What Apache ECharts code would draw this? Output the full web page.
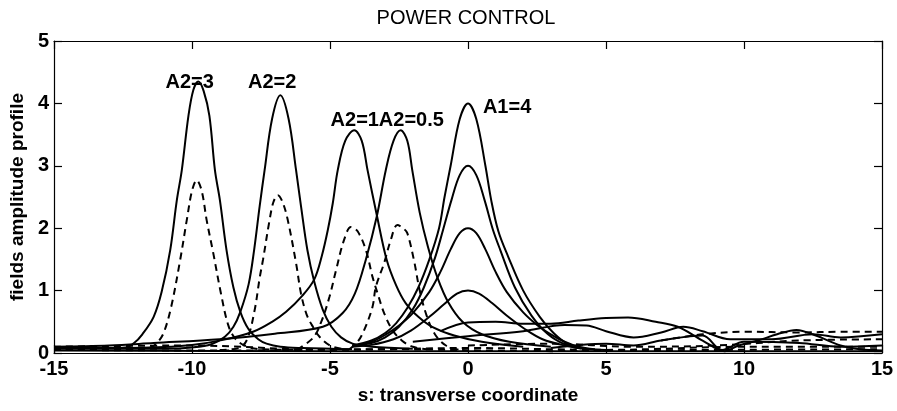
<!DOCTYPE html>
<html>
<head>
<meta charset="utf-8">
<script src="https://cdn.jsdelivr.net/npm/echarts@6/dist/echarts.min.js"></script>
<style>
  html, body { margin: 0; padding: 0; background: #fff; }
  #chart { width: 897px; height: 411px; }
</style>
</head>
<body>
<div id="chart"></div>
<script>
// Field amplitude profiles versus transverse coordinate s.
// Solid: main field, dashed: second field, for each power setting.

const xTicks = [-15, -10, -5, 0, 5, 10, 15];
const yTicks = [0, 1, 2, 3, 4, 5];

// A2 = 3
const a2_3_solid = [[-15,0.09],[-14,0.09],[-13,0.08],[-12.4,0.09],[-12.1,0.16],[-11.8,0.3],[-11.39,0.58],[-11.1,0.98],[-10.79,1.65],[-10.55,2.45],[-10.37,2.93],[-10.13,3.8],[-9.95,4.22],[-9.77,4.35],[-9.58,4.2],[-9.37,3.8],[-9.17,2.93],[-8.99,2.45],[-8.75,1.65],[-8.5,1.05],[-8.25,0.66],[-7.95,0.38],[-7.6,0.22],[-7.3,0.15],[-6.8,0.1],[-6,0.08],[-4.2,0.06]];
const a2_3_dash = [[-15,0.06],[-12,0.06],[-11.5,0.09],[-11.27,0.16],[-11.03,0.32],[-10.75,0.75],[-10.43,1.49],[-10.19,2.13],[-10.0,2.6],[-9.83,2.77],[-9.65,2.6],[-9.47,2.13],[-9.23,1.6],[-8.95,0.95],[-8.69,0.45],[-8.45,0.24],[-8.1,0.12],[-7.5,0.06],[-6,0.05]];

// A2 = 2
const a2_2_solid = [[-15,0.07],[-11,0.07],[-10,0.09],[-9.3,0.14],[-8.81,0.26],[-8.5,0.42],[-8.25,0.66],[-7.95,1.1],[-7.75,1.65],[-7.55,2.35],[-7.37,2.93],[-7.1,3.75],[-6.8,4.13],[-6.5,3.75],[-6.23,2.93],[-6.05,2.35],[-5.82,1.65],[-5.57,1.14],[-5.26,0.69],[-4.95,0.42],[-4.6,0.25],[-4.18,0.15],[-3.5,0.1],[-2,0.07]];
const a2_2_dash = [[-9,0.05],[-8.3,0.08],[-8.0,0.22],[-7.73,0.69],[-7.55,1.2],[-7.43,1.49],[-7.19,2.13],[-7.05,2.42],[-6.89,2.53],[-6.72,2.42],[-6.53,2.13],[-6.23,1.44],[-6.05,0.95],[-5.85,0.62],[-5.62,0.42],[-5.38,0.26],[-5.0,0.12],[-4.5,0.06]];

// A2 = 1
const a2_1_solid = [[-15,0.08],[-11.5,0.09],[-10,0.13],[-8.87,0.21],[-7.79,0.34],[-7.1,0.5],[-6.59,0.66],[-6.0,0.92],[-5.57,1.18],[-5.3,1.55],[-5.08,1.97],[-4.9,2.4],[-4.72,2.93],[-4.45,3.4],[-4.12,3.57],[-3.85,3.4],[-3.64,2.93],[-3.30,2.2],[-2.95,1.5],[-2.6,1.08],[-2.26,0.8],[-1.8,0.58],[-1.30,0.42],[-0.5,0.28],[0.5,0.18],[2,0.1]];
const a2_1_dash = [[-6.2,0.05],[-5.6,0.25],[-5.3,0.52],[-5.02,0.9],[-4.78,1.33],[-4.5,1.8],[-4.24,2.02],[-4.0,1.95],[-3.70,1.65],[-3.46,1.22],[-3.28,0.96],[-3.04,0.64],[-2.74,0.37],[-2.4,0.2],[-2,0.1],[-1.5,0.06]];

// A2 = 0.5
const a2_05_solid = [[-15,0.1],[-13,0.12],[-11.39,0.16],[-9,0.22],[-7,0.31],[-5.26,0.42],[-4.54,0.64],[-4.1,0.95],[-3.7,1.5],[-3.30,2.2],[-2.98,2.93],[-2.7,3.4],[-2.44,3.57],[-2.2,3.4],[-2.02,2.93],[-1.75,2.25],[-1.45,1.7],[-1.1,1.2],[-0.7,0.8],[-0.2,0.5],[0.5,0.3],[1.5,0.18],[3,0.1]];
const a2_05_dash = [[-4.3,0.06],[-4.0,0.18],[-3.76,0.37],[-3.46,0.74],[-3.34,1.06],[-3.04,1.44],[-2.80,1.81],[-2.56,2.05],[-2.35,2.0],[-2.20,1.92],[-1.96,1.49],[-1.75,1.0],[-1.5,0.6],[-1.2,0.3],[-0.8,0.12],[-0.3,0.05]];

// A1 family centred at s = 0
const a1_4 = [[-4.2,0.12],[-3.5,0.2],[-3.0,0.32],[-2.6,0.48],[-2.2,0.72],[-1.8,1.05],[-1.4,1.5],[-1.05,2.0],[-0.85,2.5],[-0.63,3.0],[-0.3,3.75],[0,4.0],[0.3,3.75],[0.63,3.0],[0.84,2.45],[1.1,1.95],[1.45,1.55],[2.0,1.0],[2.6,0.58],[3.1,0.32],[3.6,0.15],[4.2,0.08]];
const a1_3 = [[-4.2,0.12],[-3.5,0.16],[-3.0,0.25],[-2.5,0.42],[-2.0,0.7],[-1.6,1.05],[-1.2,1.52],[-0.9,1.98],[-0.6,2.45],[-0.3,2.85],[0,3.0],[0.3,2.85],[0.6,2.45],[0.9,1.98],[1.17,1.65],[1.7,1.05],[2.3,0.6],[2.9,0.3],[3.5,0.14],[4.1,0.07]];
const a1_2 = [[-4.2,0.11],[-3.5,0.18],[-3.0,0.29],[-2.5,0.44],[-2.0,0.64],[-1.4,0.98],[-1.0,1.3],[-0.63,1.66],[-0.3,1.92],[0,2.0],[0.3,1.92],[0.63,1.66],[1.0,1.3],[1.4,0.98],[2.0,0.65],[2.5,0.45],[3.0,0.3],[3.5,0.18],[4.0,0.1],[4.6,0.06]];
const a1_1 = [[-4.2,0.1],[-3.5,0.13],[-2.7,0.22],[-2.07,0.36],[-1.4,0.58],[-0.87,0.78],[-0.4,0.95],[0,1.0],[0.4,0.95],[0.87,0.8],[1.4,0.6],[2.07,0.38],[2.7,0.22],[3.5,0.12],[4.2,0.07],[5,0.05]];

// Weak residual fields on the right side
const tail_1 = [[-1,0.35],[0,0.49],[1,0.5],[2,0.47],[3,0.47],[4,0.52],[5,0.56],[5.8,0.57],[6.8,0.5],[7.6,0.42],[8.5,0.2],[9.3,0.03],[9.8,0.12],[10.5,0.2],[11.2,0.3],[11.9,0.37],[12.6,0.28],[13.5,0.12],[14.2,0.06],[15,0.04]];
const tail_2 = [[-2,0.18],[0,0.27],[2,0.35],[3.5,0.45],[4.3,0.44],[5,0.35],[6,0.25],[7,0.33],[7.8,0.42],[8.5,0.35],[9.5,0.22],[11,0.22],[12.5,0.3],[13.5,0.25],[15,0.3]];
const tail_3 = [[3,0.08],[5,0.15],[6,0.12],[7,0.2],[8.5,0.28],[9.2,0.05],[10,0.18],[12,0.16],[13.5,0.1],[15,0.12]];
const tail_dash_1 = [[7,0.2],[8.5,0.3],[10,0.34],[12,0.33],[13.5,0.34],[15,0.34]];
const tail_dash_2 = [[0,0.12],[3,0.15],[6,0.1],[9,0.12],[12,0.2],[15,0.22]];
const base_dash = [[-15,0.1],[-10,0.12],[-5,0.05],[0,0.08],[5,0.05],[10,0.1],[15,0.1]];
const base_dash_2 = [[-15,0.05],[-9,0.04],[-3,0.06],[3,0.03],[9,0.05],[15,0.06]];
const base_solid = [[-15,0.04],[-5,0.03],[5,0.03],[15,0.03]];

// Curve annotations (text, s of left edge, amplitude)
const notes = [
  ['A2=3', -10.96, 4.33],
  ['A2=2', -7.97, 4.33],
  ['A2=1', -4.98, 3.73],
  ['A2=0.5', -3.23, 3.73],
  ['A1=4', 0.54, 3.93]
];

const FONT = '"Liberation Sans", Arial, Helvetica, sans-serif';

const solidCurves = [a2_3_solid, a2_2_solid, a2_1_solid, a2_05_solid, a1_4, a1_3, a1_2, a1_1, tail_1, tail_2, tail_3, base_solid];
const dashedCurves = [a2_3_dash, a2_2_dash, a2_1_dash, a2_05_dash, tail_dash_1, tail_dash_2, base_dash, base_dash_2];

function lineSeries(data, dashed) {
  return {
    type: 'line',
    data: data,
    xAxisIndex: 0,
    yAxisIndex: 0,
    showSymbol: false,
    symbol: 'none',
    smooth: 0.35,
    silent: true,
    animation: false,
    lineStyle: { color: '#000', width: 2, type: dashed ? [7, 5] : 'solid' }
  };
}

const series = [];
solidCurves.forEach(d => series.push(lineSeries(d, false)));
dashedCurves.forEach(d => series.push(lineSeries(d, true)));
series.push({
  type: 'scatter',
  xAxisIndex: 0,
  yAxisIndex: 0,
  symbolSize: 0,
  silent: true,
  animation: false,
  itemStyle: { opacity: 1 },
  data: notes.map(n => ({ value: [n[1], n[2]], name: n[0] })),
  label: {
    show: true,
    position: 'inside',
    formatter: p => p.name,
    color: '#000',
    opacity: 1,
    fontFamily: FONT,
    fontWeight: 'bold',
    fontSize: 20,
    align: 'left',
    verticalAlign: 'middle'
  }
});

const axisCommonX = {
  type: 'value', min: xTicks[0], max: xTicks[xTicks.length - 1], interval: 5,
  axisLine: { onZero: false, lineStyle: { color: '#000', width: 1.2 } },
  axisTick: { inside: true, length: 8, lineStyle: { color: '#000', width: 1.2 } },
  splitLine: { show: false }
};
const axisCommonY = {
  type: 'value', min: yTicks[0], max: yTicks[yTicks.length - 1], interval: 1,
  axisLine: { onZero: false, lineStyle: { color: '#000', width: 1.2 } },
  axisTick: { inside: true, length: 8, lineStyle: { color: '#000', width: 1.2 } },
  splitLine: { show: false }
};

const chart = echarts.init(document.getElementById('chart'), null, { renderer: 'canvas' });
chart.setOption({
  animation: false,
  backgroundColor: '#fff',
  grid: { left: 50, right: 15, top: 41, bottom: 58, containLabel: false },
  graphic: [{
    type: 'text', x: 466, y: 18,
    style: { text: 'POWER CONTROL', fill: '#000', font: '20px ' + FONT, textAlign: 'center', textVerticalAlign: 'middle' }
  }],
  xAxis: [
    Object.assign({}, axisCommonX, {
      position: 'bottom',
      axisLabel: { color: '#000', fontFamily: FONT, fontWeight: 'bold', fontSize: 20, margin: 6 },
      name: 's: transverse coordinate', nameLocation: 'middle', nameGap: 33,
      nameTextStyle: { color: '#000', fontFamily: FONT, fontWeight: 'bold', fontSize: 19 }
    }),
    Object.assign({}, axisCommonX, { position: 'top', axisLabel: { show: false } })
  ],
  yAxis: [
    Object.assign({}, axisCommonY, {
      position: 'left',
      axisLabel: { color: '#000', fontFamily: FONT, fontWeight: 'bold', fontSize: 20, margin: 5 },
      name: 'fields amplitude profile', nameLocation: 'middle', nameGap: 22,
      nameTextStyle: { color: '#000', fontFamily: FONT, fontWeight: 'bold', fontSize: 19 }
    }),
    Object.assign({}, axisCommonY, { position: 'right', axisLabel: { show: false } })
  ],
  series: series
});
</script>
</body>
</html>
